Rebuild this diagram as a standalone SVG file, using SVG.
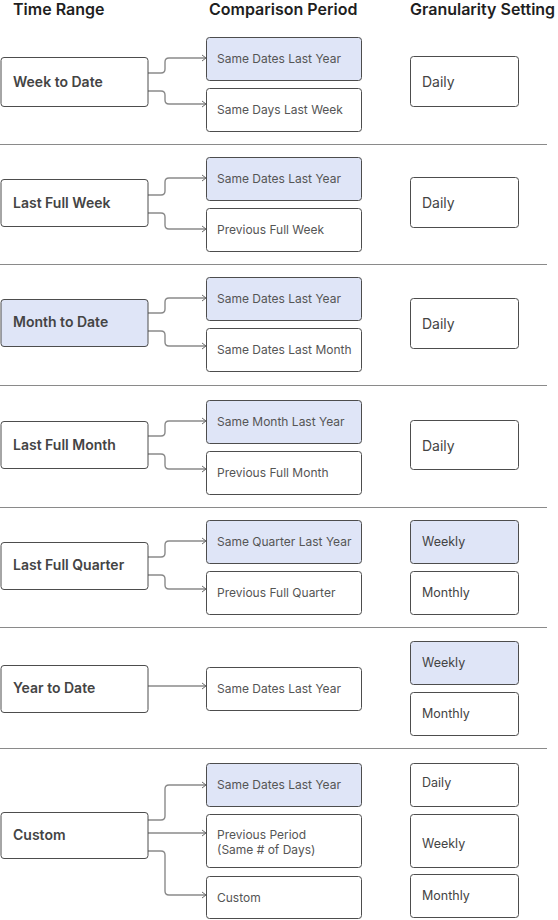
<svg xmlns="http://www.w3.org/2000/svg" width="558" height="920" viewBox="0 0 558 920">
<style>
.bg{fill:#ffffff}
.box{fill:#ffffff;stroke:#4d4d4d;stroke-width:1}
.hi{fill:#dfe5f7;stroke:#4d4d4d;stroke-width:1}
.hdr{font-family:Inter,"Liberation Sans",sans-serif;font-size:16px;font-weight:600;fill:#1f1f1f}
.lt{font-family:Inter,"Liberation Sans",sans-serif;font-size:14px;font-weight:600;fill:#444444}
.ct{font-family:Inter,"Liberation Sans",sans-serif;font-size:12px;fill:#555555}
.gt{font-family:Inter,"Liberation Sans",sans-serif;font-size:12.5px;fill:#444444}
.gt14{font-family:Inter,"Liberation Sans",sans-serif;font-size:14px;fill:#444444}
.div{stroke:#8a8a8a;stroke-width:1}
.con{fill:none;stroke:#8a8a8a;stroke-width:1.4;marker-end:url(#arr)}
</style>
<defs>
<marker id="arr" markerWidth="8" markerHeight="8" refX="6" refY="4" orient="auto" markerUnits="userSpaceOnUse">
<path d="M2,1 L6,4 L2,7" fill="none" stroke="#6a6a6a" stroke-width="1"/>
</marker>
</defs>
<rect class="bg" x="0" y="0" width="558" height="920"/>
<g id="headers">
<text class="hdr" x="13" y="15">Time Range</text>
<text class="hdr" x="209" y="15">Comparison Period</text>
<text class="hdr" x="410" y="15">Granularity Setting</text>
</g>
<g id="dividers">
<line class="div" x1="0" y1="144.5" x2="547" y2="144.5"/>
<line class="div" x1="0" y1="264.5" x2="547" y2="264.5"/>
<line class="div" x1="0" y1="385.5" x2="547" y2="385.5"/>
<line class="div" x1="0" y1="507.5" x2="547" y2="507.5"/>
<line class="div" x1="0" y1="627.5" x2="547" y2="627.5"/>
<line class="div" x1="0" y1="748.5" x2="547" y2="748.5"/>
</g>
<g id="connectors">
<path class="con" d="M148,73 H161 Q165,73 165,69 V62 Q165,58 169,58 H206"/>
<path class="con" d="M148,91 H161 Q165,91 165,95 V100 Q165,104 169,104 H206"/>
<path class="con" d="M148,195 H161 Q165,195 165,191 V182 Q165,178 169,178 H206"/>
<path class="con" d="M148,213 H161 Q165,213 165,217 V225 Q165,229 169,229 H206"/>
<path class="con" d="M148,313 H161 Q165,313 165,309 V302 Q165,298 169,298 H206"/>
<path class="con" d="M148,331 H161 Q165,331 165,335 V342 Q165,346 169,346 H206"/>
<path class="con" d="M148,436 H161 Q165,436 165,432 V425 Q165,421 169,421 H206"/>
<path class="con" d="M148,454 H161 Q165,454 165,458 V465 Q165,469 169,469 H206"/>
<path class="con" d="M148,557 H161 Q165,557 165,553 V545 Q165,541 169,541 H206"/>
<path class="con" d="M148,575 H161 Q165,575 165,579 V585 Q165,589 169,589 H206"/>
<path class="con" d="M148,686 H206"/>
<path class="con" d="M148,820 H161 Q165,820 165,816 V789 Q165,785 169,785 H206"/>
<path class="con" d="M148,833 H206"/>
<path class="con" d="M148,851 H161 Q165,851 165,855 V891 Q165,895 169,895 H206"/>
</g>
<g id="tr-week-to-date"><rect class="box" x="1" y="57.5" width="147" height="49" rx="3"/><text class="lt" x="13" y="87">Week to Date</text></g>
<g id="cp-1a"><rect class="hi" x="206.5" y="37.5" width="155" height="43" rx="3"/><text class="ct" x="217" y="63">Same Dates Last Year</text></g>
<g id="cp-1b"><rect class="box" x="206.5" y="88.5" width="155" height="43" rx="3"/><text class="ct" x="217" y="114">Same Days Last Week</text></g>
<g id="gr-1"><rect class="box" x="410.5" y="56.5" width="108" height="50" rx="3"/><text class="gt14" x="422" y="87">Daily</text></g>

<g id="tr-last-full-week"><rect class="box" x="1" y="179.5" width="147" height="47" rx="3"/><text class="lt" x="13" y="208">Last Full Week</text></g>
<g id="cp-2a"><rect class="hi" x="206.5" y="157.5" width="155" height="43" rx="3"/><text class="ct" x="217" y="183">Same Dates Last Year</text></g>
<g id="cp-2b"><rect class="box" x="206.5" y="208.5" width="155" height="43" rx="3"/><text class="ct" x="217" y="234">Previous Full Week</text></g>
<g id="gr-2"><rect class="box" x="410.5" y="177.5" width="108" height="50" rx="3"/><text class="gt14" x="422" y="208">Daily</text></g>

<g id="tr-month-to-date"><rect class="hi" x="1" y="299.5" width="147" height="47" rx="3"/><text class="lt" x="13" y="327">Month to Date</text></g>
<g id="cp-3a"><rect class="hi" x="206.5" y="277.5" width="155" height="43" rx="3"/><text class="ct" x="217" y="303">Same Dates Last Year</text></g>
<g id="cp-3b"><rect class="box" x="206.5" y="328.5" width="155" height="43" rx="3"/><text class="ct" x="217" y="354">Same Dates Last Month</text></g>
<g id="gr-3"><rect class="box" x="410.5" y="298.5" width="108" height="50" rx="3"/><text class="gt14" x="422" y="329">Daily</text></g>

<g id="tr-last-full-month"><rect class="box" x="1" y="421.5" width="147" height="47" rx="3"/><text class="lt" x="13" y="450">Last Full Month</text></g>
<g id="cp-4a"><rect class="hi" x="206.5" y="400.5" width="155" height="43" rx="3"/><text class="ct" x="217" y="426">Same Month Last Year</text></g>
<g id="cp-4b"><rect class="box" x="206.5" y="451.5" width="155" height="43" rx="3"/><text class="ct" x="217" y="477">Previous Full Month</text></g>
<g id="gr-4"><rect class="box" x="410.5" y="420.5" width="108" height="49" rx="3"/><text class="gt14" x="422" y="451">Daily</text></g>

<g id="tr-last-full-quarter"><rect class="box" x="1" y="542.5" width="147" height="47" rx="3"/><text class="lt" x="13" y="570">Last Full Quarter</text></g>
<g id="cp-5a"><rect class="hi" x="206.5" y="520.5" width="155" height="43" rx="3"/><text class="ct" x="217" y="546">Same Quarter Last Year</text></g>
<g id="cp-5b"><rect class="box" x="206.5" y="571.5" width="155" height="43" rx="3"/><text class="ct" x="217" y="597">Previous Full Quarter</text></g>
<g id="gr-5a"><rect class="hi" x="410.5" y="520.5" width="108" height="43" rx="3"/><text class="gt" x="422" y="546">Weekly</text></g>
<g id="gr-5b"><rect class="box" x="410.5" y="571.5" width="108" height="43" rx="3"/><text class="gt" x="422" y="597">Monthly</text></g>

<g id="tr-year-to-date"><rect class="box" x="1" y="665.5" width="147" height="47" rx="3"/><text class="lt" x="13" y="693">Year to Date</text></g>
<g id="cp-6a"><rect class="box" x="206.5" y="667.5" width="155" height="43" rx="3"/><text class="ct" x="217" y="693">Same Dates Last Year</text></g>
<g id="gr-6a"><rect class="hi" x="410.5" y="641.5" width="108" height="43" rx="3"/><text class="gt" x="422" y="667">Weekly</text></g>
<g id="gr-6b"><rect class="box" x="410.5" y="692.5" width="108" height="43" rx="3"/><text class="gt" x="422" y="718">Monthly</text></g>

<g id="tr-custom"><rect class="box" x="1" y="812.5" width="147" height="46" rx="3"/><text class="lt" x="13" y="840">Custom</text></g>
<g id="cp-7a"><rect class="hi" x="206.5" y="763.5" width="155" height="43" rx="3"/><text class="ct" x="217" y="789">Same Dates Last Year</text></g>
<g id="cp-7b"><rect class="box" x="206.5" y="814.5" width="155" height="53" rx="3"/><text class="ct" x="217" y="839">Previous Period</text><text class="ct" x="217" y="854">(Same # of Days)</text></g>
<g id="cp-7c"><rect class="box" x="206.5" y="876.5" width="155" height="42" rx="3"/><text class="ct" x="217" y="902">Custom</text></g>
<g id="gr-7a"><rect class="box" x="410.5" y="763.5" width="108" height="43" rx="3"/><text class="gt" x="422" y="787">Daily</text></g>
<g id="gr-7b"><rect class="box" x="410.5" y="814.5" width="108" height="53" rx="3"/><text class="gt" x="422" y="848">Weekly</text></g>
<g id="gr-7c"><rect class="box" x="410.5" y="874.5" width="108" height="43" rx="3"/><text class="gt" x="422" y="900">Monthly</text></g>
</svg>
